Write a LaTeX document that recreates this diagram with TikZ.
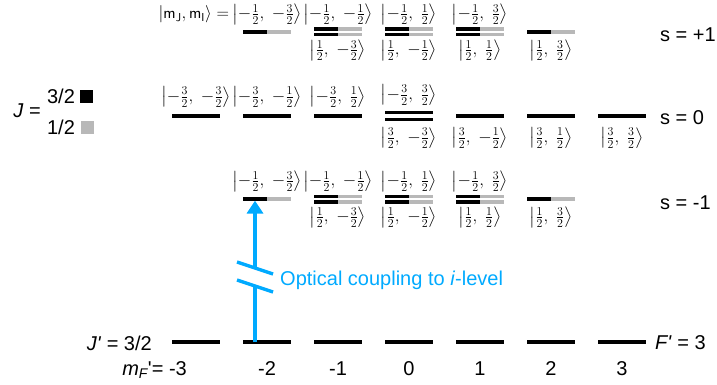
\documentclass[tikz,border=0pt]{standalone}
\usepackage{amsmath}
\usepackage{fontspec}
\setmainfont{Liberation Sans}
\usepackage{tikz}
\usetikzlibrary{arrows.meta}
\usepackage{xcolor}
\definecolor{optblue}{RGB}{0,170,255}
\definecolor{jhalfgray}{RGB}{184,184,184}

% |m_J, m_I> label
\newcommand{\mstate}[2]{$\left|#1,\;#2\right\rangle$}
% split level: J=3/2 part left (black), J=1/2 part right (gray)
\newcommand{\halfbar}[3]{%
  \node[jthree, anchor=east] (#1k) at (#2,#3) {};
  \node[jhalf, anchor=west] (#1g) at (#2,#3) {};}

\tikzset{
  bar/.style={inner sep=0pt, outer sep=0pt, minimum height=3.2pt},
  jthree/.style={bar, fill=black, minimum width=24pt},
  jhalf/.style={bar, fill=jhalfgray, minimum width=24pt},
  level/.style={bar, fill=black, minimum width=48pt, minimum height=3.6pt},
  ket/.style={inner sep=0pt, font=\fontsize{16.5}{18}\selectfont},
  lbl/.style={inner sep=0pt, font=\fontsize{20}{24}\selectfont},
  coupling/.style={draw=optblue, line width=3.4pt, -{Triangle[length=13pt, width=16pt]}}
}

\begin{document}
\begin{tikzpicture}[x=1pt, y=-1pt]
  \useasboundingbox (0,0) rectangle (717,385);

  % legend
  \node[lbl] (jeq) at (27,111) {\textit{J} =};
  \node[lbl] (j3) at (61,96) {3/2};
  \node[lbl] (j1) at (61,127) {1/2};
  \node[bar, fill=black, minimum width=13pt, minimum height=13pt] (j3box) at (86.5,96.5) {};
  \node[bar, fill=jhalfgray, minimum width=13pt, minimum height=13pt] (j1box) at (87.5,127.5) {};

  % s = +1 and s = -1 manifolds
  \foreach \r/\y in {p/32, m/199}{
    \halfbar{\r1}{267}{\y}
    \halfbar{\r2a}{338}{\y-2.9}
    \halfbar{\r2b}{338}{\y+2.9}
    \halfbar{\r3a}{409}{\y-2.9}
    \halfbar{\r3b}{409}{\y+2.9}
    \halfbar{\r4a}{480}{\y-2.9}
    \halfbar{\r4b}{480}{\y+2.9}
    \halfbar{\r5}{551}{\y}
    \node[ket] (\r1u) at (267,\y-17.5) {\mstate{-\tfrac12}{-\tfrac32}};
    \node[ket] (\r2u) at (338,\y-17.5) {\mstate{-\tfrac12}{-\tfrac12}};
    \node[ket] (\r3u) at (409,\y-17.5) {\mstate{-\tfrac12}{\tfrac12}};
    \node[ket] (\r4u) at (480,\y-17.5) {\mstate{-\tfrac12}{\tfrac32}};
    \node[ket] (\r2d) at (338,\y+18.5) {\mstate{\tfrac12}{-\tfrac32}};
    \node[ket] (\r3d) at (409,\y+18.5) {\mstate{\tfrac12}{-\tfrac12}};
    \node[ket] (\r4d) at (480,\y+18.5) {\mstate{\tfrac12}{\tfrac12}};
    \node[ket] (\r5d) at (551,\y+18.5) {\mstate{\tfrac12}{\tfrac32}};
  }
  \node[ket, anchor=east] (mjmi) at (p1u.west) {$\left|\mathsf{m}_{\mathsf{J}},\mathsf{m}_{\mathsf{I}}\right\rangle=$\,};

  % s = 0 manifold
  \node[level] (z0) at (196,116) {};
  \node[level] (z1) at (267,116) {};
  \node[level] (z2) at (338,116) {};
  \node[level] (z3a) at (409,112.6) {};
  \node[level] (z3b) at (409,119.4) {};
  \node[level] (z4) at (480,116) {};
  \node[level] (z5) at (551,116) {};
  \node[level] (z6) at (622,116) {};
  \node[ket] (z0u) at (196,97) {\mstate{-\tfrac32}{-\tfrac32}};
  \node[ket] (z1u) at (267,97) {\mstate{-\tfrac32}{-\tfrac12}};
  \node[ket] (z2u) at (338,97) {\mstate{-\tfrac32}{\tfrac12}};
  \node[ket] (z3u) at (409,95) {\mstate{-\tfrac32}{\tfrac32}};
  \node[ket] (z3d) at (409,138) {\mstate{\tfrac32}{-\tfrac32}};
  \node[ket] (z4d) at (480,138) {\mstate{\tfrac32}{-\tfrac12}};
  \node[ket] (z5d) at (551,138) {\mstate{\tfrac32}{\tfrac12}};
  \node[ket] (z6d) at (622,138) {\mstate{\tfrac32}{\tfrac32}};

  % manifold labels
  \node[lbl, anchor=west] (sp) at (660,35) {s = +1};
  \node[lbl, anchor=west] (sz) at (660,118) {s = 0};
  \node[lbl, anchor=west] (sm) at (660,203) {s = -1};

  % excited level J'=3/2, F'=3
  \foreach \i/\x in {0/196, 1/267, 2/338, 3/409, 4/480, 5/551, 6/622}
    \node[level] (b\i) at (\x,342) {};
  \node[lbl, anchor=east] (jp) at (152,343) {\textit{J\textquotesingle} = 3/2};
  \node[lbl, anchor=west] (fp) at (655,343) {\textit{F\textquotesingle} = 3};
  \node[lbl, anchor=base east] (mf0) at (187,375) {\textit{m\textsubscript{F}}\textquotesingle= -3};
  \foreach \i/\x/\m in {1/267/-2, 2/338/-1, 3/409/0, 4/480/1, 5/551/2, 6/622/3}
    \node[lbl, anchor=base] (mf\i) at (\x,375) {\m};

  % optical coupling with axis break
  \draw[coupling] (b1.center -| m1k.south) -- (m1k.south);
  \fill[white] (237,262) -- (273,274) -- (273,292) -- (237,280) -- cycle;
  \draw[optblue, line width=3.4pt] (237,262) -- (273,274) (237,280) -- (273,292);
  \node[lbl, anchor=west, text=optblue] (cpl) at (280,280) {Optical coupling to \textit{i}-level};
\end{tikzpicture}
\end{document}
